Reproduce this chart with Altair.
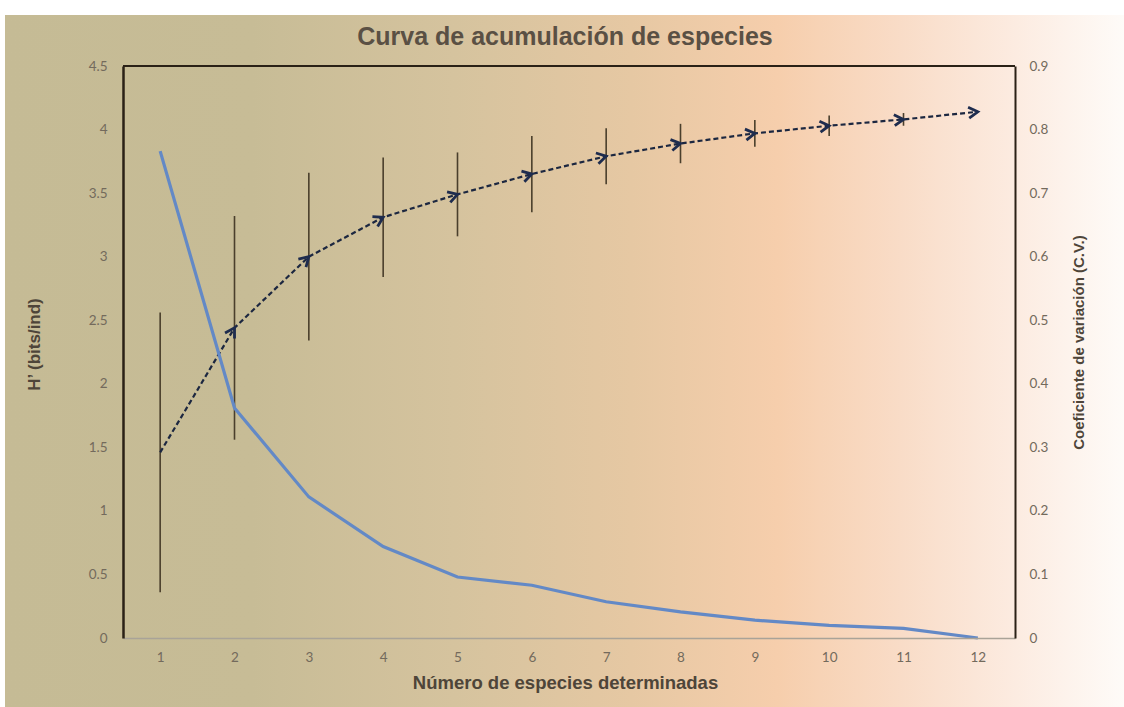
import math
import altair as alt
import pandas as pd

# ---- data ----
especies = [1, 2, 3, 4, 5, 6, 7, 8, 9, 10, 11, 12]
h_media = [1.46, 2.44, 3.00, 3.31, 3.49, 3.65, 3.79, 3.89, 3.97, 4.03, 4.08, 4.14]
h_error = [1.10, 0.88, 0.66, 0.47, 0.33, 0.30, 0.22, 0.155, 0.105, 0.08, 0.05, 0.0]
cv = [0.766, 0.362, 0.222, 0.144, 0.096, 0.083, 0.057, 0.041, 0.028, 0.020, 0.015, 0.0]

h_ticks = [0, 0.5, 1, 1.5, 2, 2.5, 3, 3.5, 4, 4.5]
cv_ticks = [0, 0.1, 0.2, 0.3, 0.4, 0.5, 0.6, 0.7, 0.8, 0.9]

titulo = "Curva de acumulación de especies"

# ---- layout ----
W, H = 892, 572
PAD = {"left": 123, "top": 66, "right": 109, "bottom": 69}
H_MAX, CV_MAX = 4.5, 0.9

df = pd.DataFrame({"n": especies, "h": h_media, "err": h_error, "cv": cv})
df["lo"] = df["h"] - df["err"]
df["hi"] = df["h"] + df["err"]

# direction of each incoming dashed segment (screen space) for the arrow heads
px_h = H / H_MAX
px_x = W / 12.0
ang = [None]
for i in range(1, len(h_media)):
    a = math.degrees(math.atan2(-(h_media[i] - h_media[i - 1]) * px_h, px_x))
    ang.append(a % 360)
df["ang"] = ang
arrows_df = df.iloc[1:].copy()
err_df = df[df["err"] > 0]

LABEL_FONT = "Lato"
TITLE_FONT = "Liberation Sans"
LABEL_COLOR = "#736a5c"
TITLE_COLOR = "#4e4539"
DARK = "#2a2116"

x_enc = alt.X(
    "n:Q",
    scale=alt.Scale(domain=[0.5, 12.5], nice=False, zero=False),
    axis=alt.Axis(
        values=especies, format="d", title="Número de especies determinadas",
        grid=False, ticks=False, tickSize=0, labelPadding=12,
        labelFont=LABEL_FONT, labelFontSize=13.5, labelColor=LABEL_COLOR,
        titleFont=TITLE_FONT, titleFontSize=18.5, titleFontWeight="bold",
        titleColor=TITLE_COLOR, titleY=44, titleBaseline="middle", titleX=W / 2 - 4,
        domainColor="#a9a398", domainWidth=1.5, zindex=1,
    ),
)

h_scale = alt.Scale(domain=[0, H_MAX], nice=False, zero=True)

one = pd.DataFrame({"t": [titulo]})

# background gradient
bg = alt.Chart(one).mark_rect(
    color=alt.Gradient(
        gradient="linear",
        stops=[
            alt.GradientStop(color="#c5bb95", offset=0),
            alt.GradientStop(color="#c7bc96", offset=0.22),
            alt.GradientStop(color="#d5c39e", offset=0.4),
            alt.GradientStop(color="#e6c8a3", offset=0.56),
            alt.GradientStop(color="#f6ceac", offset=0.69),
            alt.GradientStop(color="#f9dcc7", offset=0.8),
            alt.GradientStop(color="#fcebe0", offset=0.9),
            alt.GradientStop(color="#fefbf8", offset=1),
        ],
        x1=0, x2=1, y1=0, y2=0,
    )
).encode(
    x=alt.value(-118), x2=alt.value(1001), y=alt.value(-51), y2=alt.value(641)
)

title_text = alt.Chart(one).mark_text(
    font=TITLE_FONT, fontSize=25, fontWeight="bold", color="#5a5044",
    align="center", baseline="middle",
).encode(x=alt.value(W / 2 - 4), y=alt.value(-29), text="t:N")

top_border = alt.Chart(one).mark_rule(
    color=DARK, strokeWidth=2
).encode(x=alt.value(0), x2=alt.value(W), y=alt.value(0))

errbars = alt.Chart(err_df).mark_rule(color="#4a3f2c", strokeWidth=1.6).encode(
    x=x_enc,
    y=alt.Y(
        "lo:Q", scale=h_scale,
        axis=alt.Axis(
            values=h_ticks, format="~g", title="H’ (bits/ind)",
            grid=False, ticks=False, tickSize=0, labelPadding=16,
            labelFont=LABEL_FONT, labelFontSize=13.5, labelColor=LABEL_COLOR,
            titleFont=TITLE_FONT, titleFontSize=17, titleFontWeight="bold",
            titleColor=TITLE_COLOR, titleX=-89, titleY=H / 2 - 8,
            titleBaseline="middle",
            titleAngle=270, domainColor=DARK, domainWidth=2.5, zindex=1,
        ),
    ),
    y2="hi:Q",
)

dashed = alt.Chart(df).mark_line(
    color="#1c2740", strokeWidth=2.2, strokeDash=[5, 3]
).encode(x=x_enc, y=alt.Y("h:Q", scale=h_scale))

arrows = alt.Chart(arrows_df).mark_point(
    shape="M-1,-0.6L0,0L-1,0.6", filled=False, color="#1e2c4e",
    strokeWidth=2.8, size=340, opacity=1, strokeJoin="miter",
).encode(
    x=x_enc, y=alt.Y("h:Q", scale=h_scale), angle=alt.Angle("ang:Q", scale=None)
)

left = alt.layer(errbars, dashed, arrows)

right = alt.Chart(df).mark_line(color="#6389c6", strokeWidth=3.2).encode(
    x=x_enc,
    y=alt.Y(
        "cv:Q",
        scale=alt.Scale(domain=[0, CV_MAX], nice=False, zero=True),
        axis=alt.Axis(
            orient="right", values=cv_ticks, format="~g",
            title="Coeficiente de variación (C.V.)",
            grid=False, ticks=False, tickSize=0, labelPadding=14,
            labelFont=LABEL_FONT, labelFontSize=13.5, labelColor=LABEL_COLOR,
            titleFont=TITLE_FONT, titleFontSize=15, titleFontWeight="bold",
            titleColor=TITLE_COLOR, titleX=63, titleY=H / 2 - 10,
            titleBaseline="middle",
            titleAngle=270, domainColor=DARK, domainWidth=2, zindex=1,
        ),
    ),
)

chart = alt.layer(bg, title_text, top_border, left, right).resolve_scale(
    y="independent"
).properties(
    width=W, height=H,
    padding=PAD,
    autosize=alt.AutoSizeParams(type="none"),
).configure_view(stroke=None).configure(background="white")

chart.save("out.html", embed_options={"renderer": "svg", "actions": False})
